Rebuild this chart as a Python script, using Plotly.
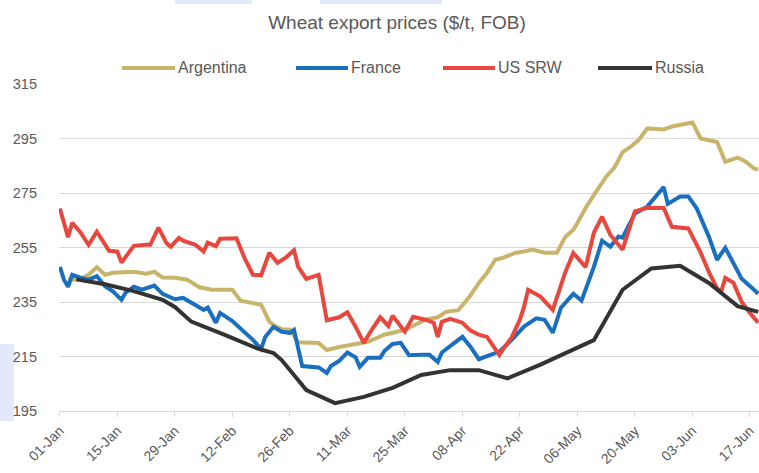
import plotly.graph_objects as go

# ---- data ($/t, FOB) ----
argentina_dates = [
    "2024-01-03", "2024-01-06", "2024-01-08", "2024-01-10", "2024-01-12", "2024-01-14",
    "2024-01-19", "2024-01-22", "2024-01-24", "2024-01-26", "2024-01-29", "2024-02-01",
    "2024-02-04", "2024-02-07", "2024-02-12", "2024-02-14", "2024-02-19", "2024-02-21",
    "2024-02-22", "2024-02-24", "2024-02-26", "2024-02-28", "2024-03-04", "2024-03-06",
    "2024-03-09", "2024-03-13", "2024-03-16", "2024-03-20", "2024-03-25", "2024-03-30",
    "2024-04-02", "2024-04-04", "2024-04-07", "2024-04-10", "2024-04-12", "2024-04-14",
    "2024-04-16", "2024-04-18", "2024-04-21", "2024-04-23", "2024-04-25", "2024-04-28",
    "2024-05-01", "2024-05-03", "2024-05-05", "2024-05-06", "2024-05-08", "2024-05-10",
    "2024-05-13", "2024-05-15", "2024-05-17", "2024-05-19", "2024-05-21", "2024-05-23",
    "2024-05-27", "2024-05-29", "2024-06-03", "2024-06-05", "2024-06-09", "2024-06-11",
    "2024-06-14", "2024-06-16", "2024-06-18", "2024-06-19",
]
argentina_values = [
    243.0, 243.5, 245.0, 247.8, 245.0, 245.7,
    246.1, 245.4, 246.1, 244.0, 243.9, 243.2,
    240.4, 239.5, 239.5, 235.5, 234.0, 227.8,
    226.6, 225.0, 224.8, 220.2, 220.0, 217.4,
    218.5, 219.5, 220.4, 223.0, 224.8, 228.5,
    229.4, 231.4, 232.0, 237.5, 242.0, 245.7,
    250.5, 251.3, 253.1, 253.5, 254.2, 253.1,
    253.1, 258.8, 261.5, 264.0, 269.5, 274.2,
    281.0, 284.3, 290.0, 292.0, 294.6, 298.7,
    298.3, 299.4, 300.9, 295.0, 293.7, 286.5,
    288.0, 286.5, 284.0, 283.6,
]

france_dates = [
    "2024-01-01", "2024-01-02", "2024-01-03", "2024-01-04", "2024-01-06", "2024-01-08",
    "2024-01-10", "2024-01-12", "2024-01-14", "2024-01-16", "2024-01-17", "2024-01-19",
    "2024-01-21", "2024-01-24", "2024-01-26", "2024-01-29", "2024-01-31", "2024-02-02",
    "2024-02-03", "2024-02-05", "2024-02-06", "2024-02-08", "2024-02-09", "2024-02-12",
    "2024-02-15", "2024-02-17", "2024-02-19", "2024-02-20", "2024-02-22", "2024-02-24",
    "2024-02-26", "2024-02-27", "2024-02-29", "2024-03-02", "2024-03-04", "2024-03-06",
    "2024-03-07", "2024-03-09", "2024-03-11", "2024-03-13", "2024-03-14", "2024-03-16",
    "2024-03-19", "2024-03-20", "2024-03-22", "2024-03-24", "2024-03-26", "2024-03-29",
    "2024-03-31", "2024-04-02", "2024-04-03", "2024-04-08", "2024-04-10", "2024-04-12",
    "2024-04-15", "2024-04-17", "2024-04-20", "2024-04-23", "2024-04-26", "2024-04-28",
    "2024-04-30", "2024-05-02", "2024-05-05", "2024-05-07", "2024-05-10", "2024-05-12",
    "2024-05-14", "2024-05-16", "2024-05-17", "2024-05-20", "2024-05-23", "2024-05-27",
    "2024-05-28", "2024-05-31", "2024-06-02", "2024-06-04", "2024-06-07", "2024-06-09",
    "2024-06-11", "2024-06-13", "2024-06-15", "2024-06-18", "2024-06-19",
]
france_values = [
    247.9, 243.2, 240.6, 245.0, 243.9, 243.2,
    244.5, 240.8, 238.8, 235.8, 238.4, 240.6,
    239.5, 241.0, 238.0, 236.0, 236.5, 235.0,
    233.9, 232.1, 233.0, 227.4, 231.0, 228.0,
    224.0, 221.1, 217.8, 222.2, 225.9, 224.1,
    223.7, 224.8, 211.5, 211.2, 211.0, 209.0,
    211.5, 213.4, 216.5, 214.7, 211.2, 214.5,
    214.5, 217.0, 219.6, 220.0, 215.5, 215.6,
    215.6, 213.0, 216.5, 222.2, 218.5, 214.0,
    215.6, 216.8, 221.1, 226.0, 229.0, 228.5,
    223.7, 232.9, 238.0, 235.5, 247.9, 257.5,
    255.3, 259.0, 258.6, 267.5, 270.0, 277.2,
    271.0, 273.7, 273.7, 269.5, 259.0, 250.5,
    254.9, 249.4, 243.5, 239.5, 238.0,
]

us_srw_dates = [
    "2024-01-01", "2024-01-03", "2024-01-04", "2024-01-06", "2024-01-08", "2024-01-10",
    "2024-01-13", "2024-01-15", "2024-01-16", "2024-01-19", "2024-01-22", "2024-01-23",
    "2024-01-25", "2024-01-27", "2024-01-28", "2024-01-30", "2024-01-31", "2024-02-01",
    "2024-02-03", "2024-02-05", "2024-02-06", "2024-02-08", "2024-02-09", "2024-02-13",
    "2024-02-15", "2024-02-17", "2024-02-19", "2024-02-21", "2024-02-23", "2024-02-25",
    "2024-02-27", "2024-02-28", "2024-03-01", "2024-03-04", "2024-03-06", "2024-03-09",
    "2024-03-11", "2024-03-13", "2024-03-15", "2024-03-17", "2024-03-19", "2024-03-21",
    "2024-03-22", "2024-03-25", "2024-03-27", "2024-03-30", "2024-04-01", "2024-04-02",
    "2024-04-03", "2024-04-05", "2024-04-08", "2024-04-10", "2024-04-12", "2024-04-14",
    "2024-04-15", "2024-04-17", "2024-04-19", "2024-04-20", "2024-04-22", "2024-04-23",
    "2024-04-24", "2024-04-27", "2024-04-30", "2024-05-03", "2024-05-05", "2024-05-08",
    "2024-05-10", "2024-05-12", "2024-05-14", "2024-05-17", "2024-05-20", "2024-05-23",
    "2024-05-27", "2024-05-29", "2024-06-02", "2024-06-05", "2024-06-07", "2024-06-09",
    "2024-06-10", "2024-06-11", "2024-06-13", "2024-06-15", "2024-06-17", "2024-06-19",
]
us_srw_values = [
    269.3, 258.8, 264.1, 260.6, 256.0, 260.8,
    253.8, 253.5, 249.5, 255.6, 256.0, 256.0,
    262.3, 256.5, 255.3, 258.5, 257.5, 257.1,
    256.0, 253.5, 256.8, 255.5, 258.2, 258.4,
    251.0, 245.0, 244.8, 253.1, 249.4, 251.3,
    254.0, 248.0, 243.5, 245.0, 228.3, 229.4,
    231.2, 225.9, 220.0, 225.0, 229.4, 226.2,
    230.0, 224.1, 229.6, 228.5, 227.4, 222.2,
    227.7, 228.8, 227.4, 224.5, 223.0, 222.2,
    220.0, 215.6, 220.0, 222.0, 228.5, 233.2,
    239.5, 237.0, 232.1, 245.7, 253.0, 247.8,
    260.4, 266.3, 259.7, 254.2, 268.3, 269.6,
    269.5, 262.6, 262.0, 253.1, 246.0, 240.0,
    238.8, 243.9, 242.0, 235.0, 231.0, 227.4,
]

russia_dates = [
    "2024-01-05", "2024-01-12", "2024-01-19", "2024-01-26", "2024-01-29", "2024-02-02",
    "2024-02-10", "2024-02-18", "2024-02-22", "2024-02-24", "2024-02-28", "2024-03-01",
    "2024-03-08", "2024-03-15", "2024-03-22", "2024-03-29", "2024-04-05", "2024-04-12",
    "2024-04-19", "2024-04-27", "2024-05-10", "2024-05-17", "2024-05-24", "2024-05-31",
    "2024-06-07", "2024-06-14", "2024-06-19",
]
russia_values = [
    243.3, 241.5, 239.0, 235.8, 233.2, 227.8,
    223.0, 218.0, 216.3, 213.7, 206.4, 202.7,
    197.9, 200.2, 203.5, 208.2, 210.0, 210.0,
    207.0, 212.0, 221.0, 239.5, 247.3, 248.3,
    242.0, 233.5, 231.4,
]

series_names = ["Argentina", "France", "US SRW", "Russia"]
series_colors = ["#C9B46C", "#1A6FBF", "#E8473D", "#333333"]
series_dates = [argentina_dates, france_dates, us_srw_dates, russia_dates]
series_values = [argentina_values, france_values, us_srw_values, russia_values]

y_ticks = [195, 215, 235, 255, 275, 295, 315]

FONT = "Liberation Sans, Arial, sans-serif"
TEXT = "#595959"
GRID = "#D9D9D9"

W, H = 759, 473
L, R, T, B = 59, 0, 84, 62
PW, PH = W - L - R, H - T - B


def px_x(x):
    return (x - L) / PW


def px_y(y):
    return (H - B - y) / PH


fig = go.Figure()
for name, color, xs, ys in zip(series_names, series_colors, series_dates, series_values):
    fig.add_trace(go.Scatter(
        x=xs, y=ys, name=name, mode="lines",
        line=dict(color=color, width=4),
        showlegend=False, hoverinfo="x+y+name",
    ))

# legend row: long key lines with labels directly after them
legend_keys = [(122, 175), (296, 348), (443, 495), (598, 652)]
shapes = []
annotations = []
for (x0, x1), name, color in zip(legend_keys, series_names, series_colors):
    shapes.append(dict(type="line", xref="paper", yref="paper",
                       x0=px_x(x0), x1=px_x(x1), y0=px_y(68), y1=px_y(68),
                       line=dict(color=color, width=4)))
    annotations.append(dict(text=name, xref="paper", yref="paper",
                            x=px_x(x1 + 1), y=px_y(68), xanchor="left", yanchor="middle",
                            showarrow=False, font=dict(family=FONT, size=16, color=TEXT)))

# pale highlight blocks around the figure edge
for x0, y0, x1, y1 in [(-2, 344, 14, 421), (175, -2, 252, 4), (320, -2, 442, 4)]:
    shapes.append(dict(type="rect", xref="paper", yref="paper",
                       x0=px_x(x0), x1=px_x(x1), y0=px_y(y1), y1=px_y(y0),
                       line=dict(width=0), fillcolor="#E3E8FB", layer="below"))

fig.update_layout(
    width=W, height=H,
    margin=dict(l=L, r=R, t=T, b=B, pad=0),
    paper_bgcolor="white", plot_bgcolor="white",
    showlegend=False,
    title=dict(text="Wheat export prices ($/t, FOB)", x=397 / W, y=1 - 22 / H,
               xref="container", yref="container", xanchor="center", yanchor="middle",
               font=dict(family=FONT, size=19, color=TEXT)),
    shapes=shapes, annotations=annotations,
    xaxis=dict(
        type="date",
        range=["2023-12-31 19:00", "2024-06-19 05:00"],
        tick0="2024-01-01", dtick=14 * 86400000,
        tickformat="%d-%b", tickangle=-45,
        ticks="outside", ticklen=5, tickcolor=GRID, tickwidth=1,
        showgrid=False, showline=True, linecolor=GRID, linewidth=1,
        zeroline=False, automargin=False,
        tickfont=dict(family=FONT, size=14, color=TEXT),
    ),
    yaxis=dict(
        range=[195, 315], tickvals=y_ticks,
        showgrid=True, gridcolor=GRID, gridwidth=1,
        showline=False, zeroline=False, ticks="", automargin=False,
        ticklabelstandoff=21,
        tickfont=dict(family=FONT, size=14.5, color=TEXT),
    ),
)

fig.write_html("out.html")
